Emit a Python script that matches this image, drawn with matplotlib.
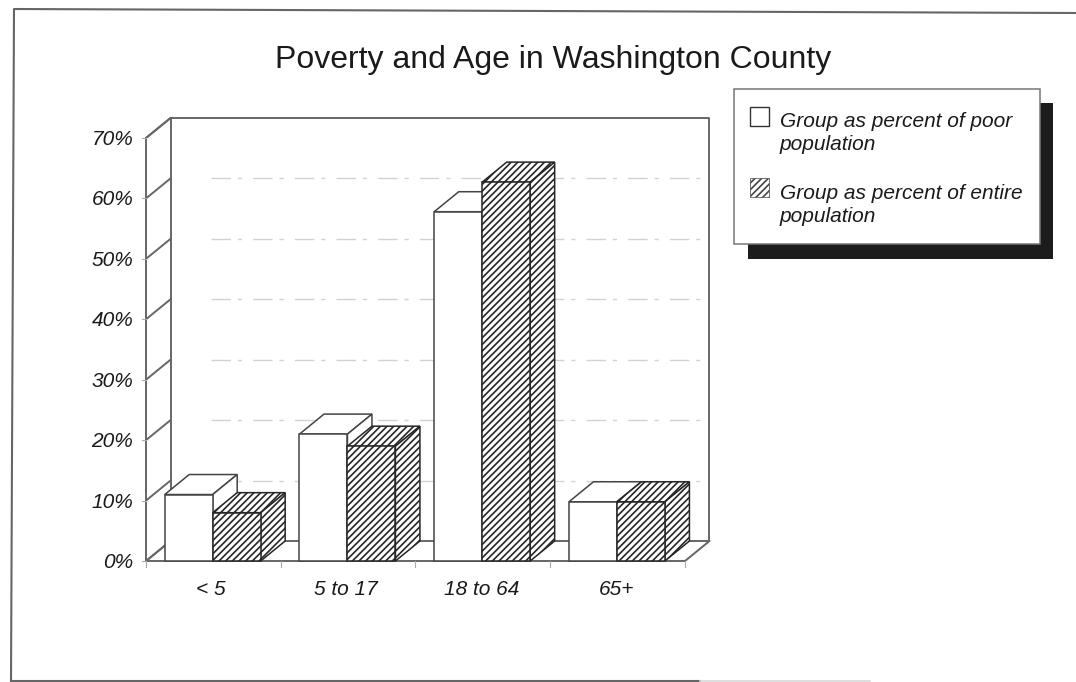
import matplotlib
matplotlib.use("Agg")
from matplotlib import pyplot as plt
from matplotlib.patches import Polygon, Rectangle

categories = ["< 5", "5 to 17", "18 to 64", "65+"]
poor_share = [11, 21, 57.8, 9.8]
entire_share = [8, 19, 62.7, 9.8]
y_ticks = [0, 10, 20, 30, 40, 50, 60, 70]
y_tick_labels = ["0%", "10%", "20%", "30%", "40%", "50%", "60%", "70%"]
title = "Poverty and Age in Washington County"
legend_labels = ["Group as percent of poor\npopulation", "Group as percent of entire\npopulation"]

W, H = 1076, 682
LINE = "#666666"
INK = "#1a1a1a"

plt.rcParams["font.family"] = ["Liberation Sans", "DejaVu Sans"]
plt.rcParams["hatch.linewidth"] = 1.2

fig = plt.figure(figsize=(W / 100, H / 100), dpi=100, facecolor="white")

# page layer in pixel coordinates, y pointing down
page = fig.add_axes([0, 0, 1, 1])
page.set_xlim(0, W)
page.set_ylim(H, 0)
page.axis("off")

# front plane of the chart: left 146, right 685, top 138, bottom 561 px
ax = fig.add_axes([146 / W, 1 - 561 / H, 539 / W, 423 / H], facecolor="none")
ax.set_xlim(0, 4)
ax.set_ylim(0, 70)
ax.axis("off")

# how far the back wall sits behind the front plane, in data units
DX = 24.5 / 539 * 4
DY = 20 / 423 * 70
BAR_W = 0.356


def wall(xs, ys, **kw):
    ax.plot(xs, ys, color=LINE, lw=1.4, clip_on=False, solid_capstyle="round", **kw)


def bar_3d(x, value, hatch=None):
    # the hatch takes the edge colour, so hatched bars get a darker edge
    edge = "#262626" if hatch else "#444444"
    for pts in (
        [(x, value), (x + BAR_W, value), (x + BAR_W + DX, value + DY), (x + DX, value + DY)],
        [(x + BAR_W, 0), (x + BAR_W + DX, DY), (x + BAR_W + DX, value + DY), (x + BAR_W, value)],
    ):
        ax.add_patch(Polygon(pts, closed=True, fc="white", ec=edge, lw=1.1,
                             hatch=hatch, clip_on=False, zorder=3))
    ax.bar(x, value, BAR_W, align="edge", color="white", edgecolor=edge, lw=1.1,
           hatch=hatch, clip_on=False, zorder=3)


# walls and floor
wall([DX, DX, 4 + DX, 4 + DX], [DY, 70 + DY, 70 + DY, DY])
wall([0, 0], [0, 70])
wall([0, 4, 4 + DX, DX, 0], [0, 0, DY, DY, 0])
wall([0, DX], [70, 70 + DY])

for t in y_ticks:
    wall([0, DX], [t, t + DY])
    ax.plot([-0.03, 0], [t, t], color="#aaaaaa", lw=0.8, clip_on=False)
    if 0 < t < 70:
        ax.plot([DX + 0.3, 4 + DX], [t + DY, t + DY], color="#d2d2d2", lw=1.0,
                ls=(0, (14, 5, 3, 8)), clip_on=False, zorder=1)
for t, lab in zip(y_ticks, y_tick_labels):
    ax.text(-0.095, t - 0.25, lab, ha="right", va="center", style="italic",
            fontsize=15, color=INK, clip_on=False)

for i in range(5):
    ax.plot([i, i], [0, -1], color="#aaaaaa", lw=0.8, clip_on=False)

# bars, drawn left to right so nearer faces cover the sides
for i, cat in enumerate(categories):
    left = i + 0.5 - BAR_W - 0.005
    bar_3d(left, poor_share[i])
    bar_3d(left + BAR_W, entire_share[i], hatch="/////")
    ax.text(i + 0.5 - 0.02 + 0.005 * i, -4.7, cat, ha="center", va="center", style="italic",
            fontsize=15, color=INK, clip_on=False)

# page frame, slightly skewed; the bottom rule fades out towards the right
page.plot([11, 14, W], [H, 9, 13], color=LINE, lw=1.5, clip_on=False)
page.plot([11, 700], [681, 681], color=LINE, lw=1.5, clip_on=False)
page.plot([700, 870], [681, 681], color="#d8d8d8", lw=1.2, clip_on=False)

page.text(553, 60, title, ha="center", va="center", fontsize=23, color=INK)

# legend box with its drop shadow
page.add_patch(Rectangle((748, 103), 305, 156, fc="#1c1c1c", ec="none", zorder=2))
page.add_patch(Rectangle((734, 89), 306, 155, fc="white", ec="#777777", lw=1.1, zorder=3))
page.add_patch(Rectangle((750, 107), 19, 19, fc="white", ec="#333333", lw=1.0, zorder=4))
page.add_patch(Rectangle((750, 178), 19, 19, fc="white", ec="#444444", lw=0.5,
                         hatch="/////", zorder=4))
page.text(780, 133, legend_labels[0], ha="left", va="center", style="italic", fontsize=15,
          color=INK, linespacing=1.28, zorder=4)
page.text(780, 205, legend_labels[1], ha="left", va="center", style="italic", fontsize=15,
          color=INK, linespacing=1.28, zorder=4)

fig.savefig("out.png", dpi=100)
